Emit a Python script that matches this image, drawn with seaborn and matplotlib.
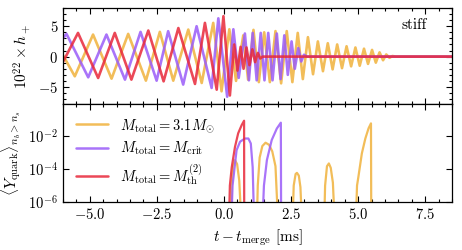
import numpy as np
import pandas as pd
import matplotlib
matplotlib.use("Agg")
import matplotlib.pyplot as plt
import seaborn as sns
from matplotlib.lines import Line2D
from matplotlib.ticker import MultipleLocator, FixedLocator, NullLocator

# ---------------- data ----------------
labels = [r"$M_{\rm total} = 3.1 M_{\odot}$",
          r"$M_{\rm total} = M_{\rm crit}$",
          r"$M_{\rm total} = M_{\rm th}^{(2)}$"]
colors = ["#F0B23C", "#9A5CF8", "#E8283A"]

# GW strain extrema, 10^22 h_+
orange_t = [-6.1, -5.56, -4.88, -4.19, -3.57, -2.91, -2.39, -1.89, -1.33, -0.83, -0.40, -0.09,
            0.20, 0.45, 0.72, 0.90, 1.10, 1.30, 1.50, 1.71, 1.92, 2.13, 2.34, 2.55, 2.75, 2.94,
            3.13, 3.32, 3.50, 3.69, 3.87, 4.05, 4.22, 4.40, 4.57, 4.74, 4.90, 5.06, 5.22, 5.37,
            5.52, 5.66, 5.80, 5.93, 6.05, 6.17, 6.28, 6.40, 8.6]
orange_h = [1.0, -3.24, 3.63, -3.63, 3.74, -3.96, 4.07, -3.96, 4.45, -4.34, 5.55, -5.71,
            4.5, -4.0, 3.5, -3.8, 4.4, -4.2, 4.0, -4.2, 4.2, -4.4, 4.2, -4.2, 3.9, -3.7,
            3.2, -2.9, 2.5, -2.4, 2.2, -2.1, 2.0, -1.9, 1.7, -1.6, 1.5, -1.5, 1.3, -1.2,
            1.1, -1.0, 0.7, -0.6, 0.35, -0.2, 0.1, 0.0, 0.0]

purple_t = [-6.1, -5.87, -5.06, -4.38, -3.69, -3.11, -2.51, -2.08, -1.52, -1.02, -0.46, -0.21,
            0.12, 0.35, 0.55, 0.78, 0.93, 1.07, 1.22, 1.37, 1.51, 1.65, 1.81, 1.97, 2.11, 2.25,
            2.38, 2.52, 2.64, 2.77, 2.88, 2.98, 3.1, 8.6]
purple_h = [2.5, 3.74, -3.41, 3.63, -3.79, 4.07, -3.96, 4.18, -4.6, 5.0, -5.16, 6.3,
            -6.6, 4.5, -3.5, 3.8, -3.9, 3.9, -3.9, 3.9, -3.9, 3.9, -3.9, 3.8, -3.7, 3.5,
            -3.0, 2.5, -2.0, 1.4, -0.8, 0.3, 0.0, 0.0]

red_t = [-6.12, -5.44, -4.69, -4.07, -3.45, -2.82, -2.25, -1.70, -1.08, -0.71, -0.27, -0.02,
         0.22, 0.38, 0.50, 0.62, 0.73, 0.84, 0.95, 1.06, 1.16, 1.26, 1.35, 1.45, 8.6]
red_h = [-1.9, 3.9, -3.52, 3.9, -3.79, 4.29, -4.07, 4.7, -4.5, 5.55, -5.44, 6.65,
         -6.4, 2.0, -2.3, 1.6, -2.0, 1.5, -1.4, 1.2, -0.9, 0.6, -0.3, 0.0, 0.0]

# quark fraction arcs (t, <Y_quark>)
orange_arcs = [
    ([0.27, 0.29, 0.34, 0.41, 0.49, 0.57, 0.64], [1e-7, 1e-5, 1.5e-4, 3.5e-4, 2e-4, 2e-5, 1e-7]),
    ([1.23, 1.26, 1.33, 1.43, 1.55, 1.68, 1.80, 1.92, 2.01], [1e-7, 1e-5, 5e-4, 2.5e-3, 4e-3, 3e-3, 1.2e-3, 1.5e-4, 1e-7]),
    ([2.56, 2.60, 2.67, 2.72, 2.79, 2.85, 2.90], [1e-7, 1e-5, 5e-5, 5.9e-5, 4e-5, 8e-6, 1e-7]),
    ([3.74, 3.77, 3.84, 3.91, 3.98, 4.06, 4.12], [1e-7, 1e-5, 1.5e-4, 2.2e-4, 1.2e-4, 1.5e-5, 1e-7]),
    ([4.92, 4.96, 5.01, 5.14, 5.27, 5.39, 5.48, 5.49], [1e-7, 1e-5, 3.3e-5, 9e-4, 7.2e-3, 3e-2, 6e-2, 1e-7]),
]
purple_arcs = [
    ([0.28, 0.32, 0.47, 0.60, 0.78, 0.91, 1.00, 1.07, 1.12], [1e-7, 1e-5, 1.4e-3, 4.6e-3, 7.2e-3, 7.2e-3, 3.6e-3, 1.3e-4, 1e-7]),
    ([1.44, 1.49, 1.60, 1.78, 1.97, 2.12, 2.13], [1e-7, 1e-5, 3.5e-4, 5.8e-3, 2.9e-2, 6.6e-2, 1e-7]),
]
red_arcs = [
    ([0.19, 0.22, 0.29, 0.41, 0.53, 0.66, 0.75, 0.755], [1e-7, 1e-5, 1.3e-4, 2.2e-3, 1.5e-2, 4.7e-2, 8.7e-2, 1e-7]),
]

xticks = [-5.0, -2.5, 0.0, 2.5, 5.0, 7.5]
yticks_top = [-5, 0, 5]
yticks_bot = [1e-6, 1e-4, 1e-2]

# ---------------- style ----------------
sns.set_theme(style="ticks")
plt.rcParams.update({
    "font.family": "serif",
    "font.serif": ["cmr10", "DejaVu Serif"],
    "mathtext.fontset": "cm",
    "axes.formatter.use_mathtext": True,
    "font.size": 10.5,
    "axes.labelsize": 11,
    "xtick.labelsize": 10.5,
    "ytick.labelsize": 10.5,
    "axes.edgecolor": "black",
    "axes.linewidth": 0.9,
    "xtick.color": "black",
    "ytick.color": "black",
    "axes.labelcolor": "black",
    "text.color": "black",
    "lines.solid_joinstyle": "round",
})

fig = plt.figure(figsize=(4.62, 2.5), dpi=100)
ax1 = fig.add_axes([63 / 462, 1 - 104 / 250, 389 / 462, 96 / 250])
ax2 = fig.add_axes([63 / 462, 1 - 202 / 250, 389 / 462, 98 / 250], sharex=ax1)

lw_top = 1.9
alpha = 0.85
for t, h, c in [(orange_t, orange_h, colors[0]), (purple_t, purple_h, colors[1]), (red_t, red_h, colors[2])]:
    sns.lineplot(x=t, y=h, ax=ax1, color=c, lw=lw_top, alpha=alpha, sort=False, estimator=None)

ax2.set_yscale("log")
for arcs, c in [(orange_arcs, colors[0]), (purple_arcs, colors[1]), (red_arcs, colors[2])]:
    for t, y in arcs:
        sns.lineplot(x=t, y=y, ax=ax2, color=c, lw=1.6, alpha=alpha, sort=False, estimator=None)

ax1.set_xlim(-6.0, 8.5)
ax1.set_ylim(-7.8, 8.0)
ax2.set_ylim(1e-6, 0.9)

for ax in (ax1, ax2):
    ax.tick_params(which="both", direction="in", top=True, right=True, width=0.8)
    ax.tick_params(which="major", length=4.5)
    ax.tick_params(which="minor", length=2.5)
    ax.xaxis.set_major_locator(FixedLocator(xticks))
    ax.xaxis.set_minor_locator(MultipleLocator(0.5))

ax1.yaxis.set_major_locator(FixedLocator(yticks_top))
ax1.yaxis.set_minor_locator(MultipleLocator(1))
ax1.tick_params(labelbottom=False)
ax2.yaxis.set_major_locator(FixedLocator(yticks_bot))
ax2.yaxis.set_minor_locator(NullLocator())
ax2.set_xticks(xticks)
ax2.set_xticklabels([r"$%.1f$" % v for v in xticks])

ax1.set_ylabel(r"$10^{22} \times h_+$")
ax2.set_ylabel(r"$\langle Y_{\rm quark}\rangle_{n_b > n_s}$")
ax2.set_xlabel(r"$t - t_{\rm merge}$ [ms]")
ax1.set_xlabel("")

ax1.text(0.935, 0.82, "stiff", transform=ax1.transAxes, ha="right", va="center", fontsize=11)

handles = [Line2D([], [], color=c, lw=1.8, alpha=alpha) for c in colors]
ax2.legend(handles, labels, loc="upper left", frameon=False, handlelength=2.2,
           fontsize=10.5, labelspacing=0.35, borderaxespad=0.5, handletextpad=0.8)

fig.savefig("out.png", dpi=100)
